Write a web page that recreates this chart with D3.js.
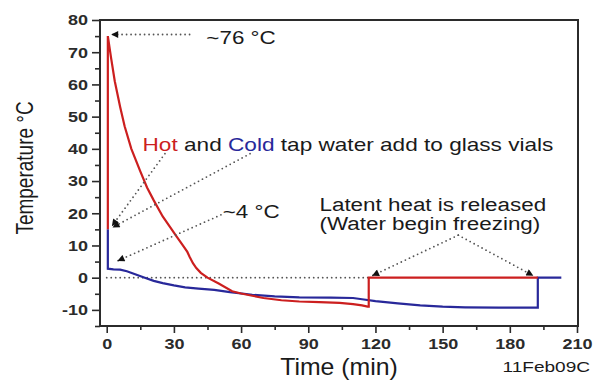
<!DOCTYPE html>
<html>
<head>
<meta charset="utf-8">
<script src="https://cdn.jsdelivr.net/npm/d3@7"></script>
<style>
  body { margin: 0; background: #fff; }
  svg { display: block; }
  text { font-family: Arial, "Liberation Sans", sans-serif; }
</style>
</head>
<body>
<svg id="chart" width="593" height="381"></svg>
<script>
// hot tap water vial (min, degC)
const hotTime = [0.5, 0.5, 2, 3.6, 6, 8, 11, 15, 18, 21, 25, 28, 31, 34, 36, 37, 38.5, 40, 42, 45, 50, 56, 60, 65, 70, 78, 86, 95, 104, 110, 114, 116.5, 117, 117, 192.5];
const hotTemp = [15, 75, 68, 61, 53, 47, 40, 33, 28, 24, 19, 16, 13, 10, 8, 6.5, 4.5, 3, 1.5, 0, -1.8, -4.2, -4.9, -5.6, -6.3, -7, -7.4, -7.6, -7.8, -8.2, -8.6, -9, -9, 0, 0];
// cold tap water vial
const coldTime = [0.5, 0.5, 3, 6, 9, 13, 17, 21, 25, 30, 35, 41, 48, 55, 65, 75, 86, 100, 110, 114, 120, 130, 140, 150, 160, 175, 192.5, 192.5, 203];
const coldTemp = [15, 2.8, 2.6, 2.5, 2, 1, 0, -1, -1.7, -2.4, -3, -3.4, -3.8, -4.5, -5.3, -5.8, -6.1, -6.2, -6.3, -6.7, -7.3, -8, -8.6, -9, -9.2, -9.3, -9.3, 0, 0];

const xTicks = [0, 30, 60, 90, 120, 150, 180, 210];
const xMinor = [15, 45, 75, 105, 135, 165, 195];
const yTicks = [-10, 0, 10, 20, 30, 40, 50, 60, 70, 80];
const yMinor = [-15, -5, 5, 15, 25, 35, 45, 55, 65, 75];

const hotColor = "#cc1f1f", coldColor = "#28289a", ink = "#2b2b2b", dotColor = "#555";

const svg = d3.select("#chart");
const mLeft = 100, mRight = 577, mTop = 20, mBottom = 326;

const x = d3.scaleLinear().domain([-3, 210]).range([mLeft, mRight]);
const y = d3.scaleLinear().domain([-15, 80]).range([mBottom, mTop]);

svg.append("rect").attr("width", 593).attr("height", 381).attr("fill", "#fff");

// arrow marker
svg.append("defs").append("marker")
  .attr("id", "arr")
  .attr("viewBox", "0 0 10 10")
  .attr("refX", 10).attr("refY", 5)
  .attr("markerUnits", "userSpaceOnUse")
  .attr("markerWidth", 9).attr("markerHeight", 7)
  .attr("orient", "auto")
  .append("path").attr("d", "M0,0 L10,5 L0,10 Z").attr("fill", "#111");

// axes
function styleAxis(g) {
  g.select(".domain").remove();
  g.selectAll("line").attr("stroke", ink).attr("stroke-width", 1.6);
}
const xAxis = svg.append("g").attr("transform", `translate(0,${mBottom})`)
  .call(d3.axisBottom(x).tickValues(xTicks).tickSize(7).tickPadding(5).tickFormat(d => String(d)));
styleAxis(xAxis);
xAxis.selectAll("text").attr("font-size", 15).attr("font-weight", "bold").attr("fill", ink)
  .attr("transform", "scale(1.2,1)");
svg.append("g").attr("transform", `translate(0,${mBottom})`)
  .call(d3.axisBottom(x).tickValues(xMinor).tickSize(4).tickFormat(""))
  .call(styleAxis);

const yAxis = svg.append("g").attr("transform", `translate(${mLeft},0)`)
  .call(d3.axisLeft(y).tickValues(yTicks).tickSize(8).tickPadding(4).tickFormat(d => String(d)));
styleAxis(yAxis);
yAxis.selectAll("text").attr("font-size", 15).attr("font-weight", "bold").attr("fill", ink)
  .attr("x", -12 / 1.2).attr("transform", "scale(1.2,1)");
svg.append("g").attr("transform", `translate(${mLeft},0)`)
  .call(d3.axisLeft(y).tickValues(yMinor).tickSize(5).tickFormat(""))
  .call(styleAxis);

// frame
svg.append("rect").attr("x", mLeft).attr("y", mTop)
  .attr("width", mRight + 1 - mLeft).attr("height", mBottom - mTop)
  .attr("fill", "none").attr("stroke", ink).attr("stroke-width", 2);

// zero reference
svg.append("line")
  .attr("x1", x(0)).attr("x2", x(117)).attr("y1", y(0)).attr("y2", y(0))
  .attr("stroke", dotColor).attr("stroke-width", 1.8)
  .attr("stroke-dasharray", "0 4.5").attr("stroke-linecap", "round");

// series
const line = d3.line().x(d => x(d[0])).y(d => y(d[1]));
svg.append("path").datum(coldTime.map((t, i) => [t, coldTemp[i]]))
  .attr("d", line).attr("fill", "none").attr("stroke", coldColor).attr("stroke-width", 2.2);
svg.append("path").datum(hotTime.map((t, i) => [t, hotTemp[i]]))
  .attr("d", line).attr("fill", "none").attr("stroke", hotColor).attr("stroke-width", 2.2);

// annotations (data units)
function pointer(from, to) {
  svg.append("line")
    .attr("x1", x(from[0])).attr("y1", y(from[1]))
    .attr("x2", x(to[0])).attr("y2", y(to[1]))
    .attr("stroke", dotColor).attr("stroke-width", 1.8)
    .attr("stroke-dasharray", "0 4.5").attr("stroke-linecap", "round")
    .attr("marker-end", "url(#arr)");
}
function label(t, T, parts, size, sx) {
  const txt = svg.append("text")
    .attr("transform", `translate(${x(t)},${y(T)}) scale(${sx},1)`)
    .attr("font-size", size).attr("fill", "#1a1a1a");
  parts.forEach(p => txt.append("tspan").attr("fill", p[1] || "#1a1a1a").text(p[0]));
  return txt;
}

pointer([37, 75.5], [2, 75.5]);
label(44.5, 72.5, [["~76 °C"]], 19, 1.18);

pointer([26, 38.5], [2.3, 16]);
pointer([64, 38.5], [2.6, 15.6]);
label(16, 39.3, [["Hot", hotColor], [" and "], ["Cold", coldColor], [" tap water add to glass vials"]], 19, 1.19);

pointer([51, 19.5], [4.8, 5.2]);
label(51.8, 18.6, [["~4 °C"]], 19, 1.18);

pointer([157, 13.2], [118.5, 0.6]);
pointer([157, 13.2], [190.5, 0.6]);
label(95, 20.7, [["Latent heat is released"]], 19, 1.18);
label(95, 14.8, [["(Water begin freezing)"]], 19, 1.18);

// axis titles
svg.append("text")
  .attr("transform", `translate(33,${(mTop + mBottom) / 2 - 5}) rotate(-90) scale(1,1.25)`)
  .attr("text-anchor", "middle").attr("font-size", 19).attr("fill", "#1a1a1a")
  .text("Temperature °C");
svg.append("text")
  .attr("transform", "translate(339,375) scale(1.08,1)")
  .attr("text-anchor", "middle")
  .attr("font-size", 23).attr("fill", "#1a1a1a")
  .text("Time (min)");
svg.append("text")
  .attr("transform", "translate(590,372) scale(1.27,1)")
  .attr("text-anchor", "end")
  .attr("font-size", 15).attr("fill", "#1a1a1a")
  .text("11Feb09C");
</script>
</body>
</html>
